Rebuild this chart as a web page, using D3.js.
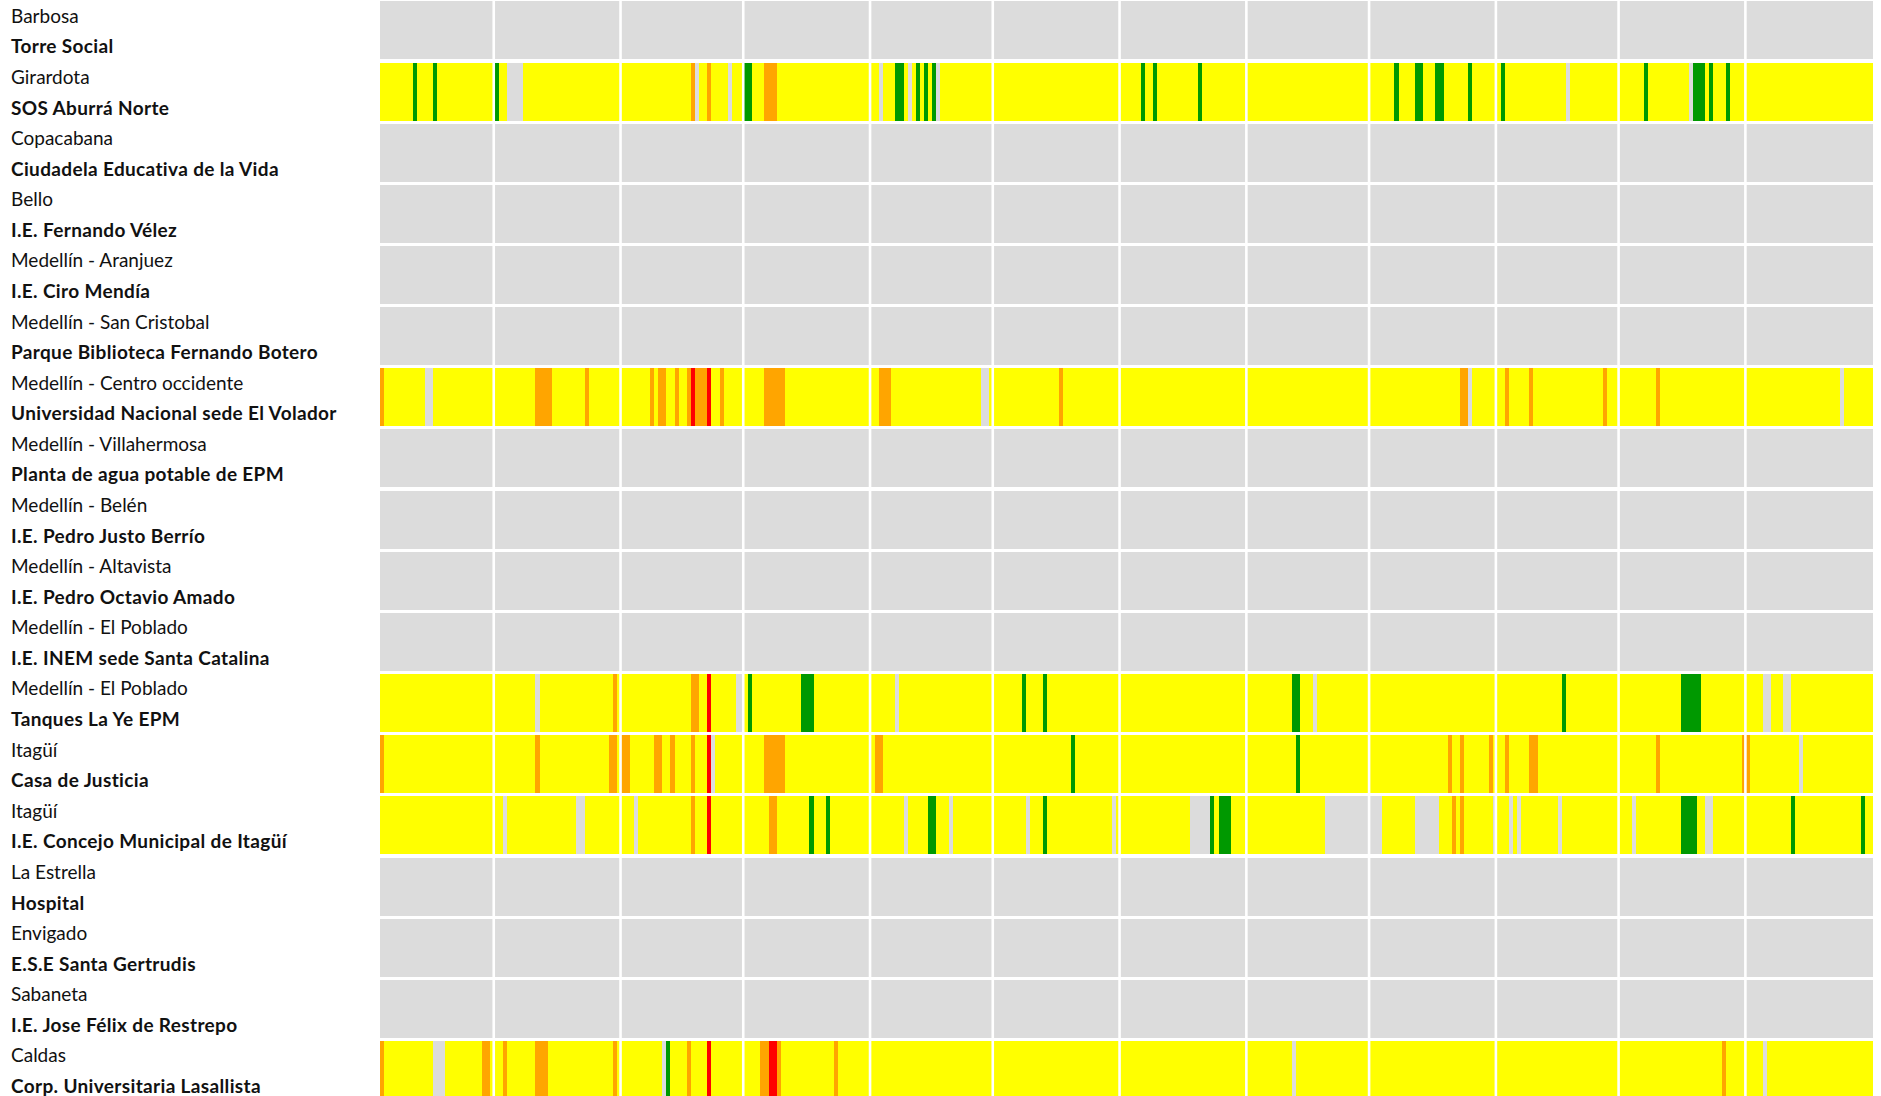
<!DOCTYPE html>
<html><head><meta charset="utf-8">
<script src="https://cdn.jsdelivr.net/npm/d3@7"></script>
<style>
html,body{margin:0;padding:0;background:#fff;overflow:hidden}
svg{display:block}
text{font-family:Lato,"Noto Sans",sans-serif;fill:#111}
</style></head><body><svg id="chart" width="1881" height="1096"></svg>
<script>
// ---- Data ----
const municipios = ["Barbosa","Girardota","Copacabana","Bello","Medellín - Aranjuez","Medellín - San Cristobal","Medellín - Centro occidente","Medellín - Villahermosa","Medellín - Belén","Medellín - Altavista","Medellín - El Poblado","Medellín - El Poblado","Itagüí","Itagüí","La Estrella","Envigado","Sabaneta","Caldas"];
const estaciones = ["Torre Social","SOS Aburrá Norte","Ciudadela Educativa de la Vida","I.E. Fernando Vélez","I.E. Ciro Mendía","Parque Biblioteca Fernando Botero","Universidad Nacional sede El Volador","Planta de agua potable de EPM","I.E. Pedro Justo Berrío","I.E. Pedro Octavio Amado","I.E. INEM sede Santa Catalina","Tanques La Ye EPM","Casa de Justicia","I.E. Concejo Municipal de Itagüí","Hospital","E.S.E Santa Gertrudis","I.E. Jose Félix de Restrepo","Corp. Universitaria Lasallista"];
const categorias = ["sinDatos","buena","moderada","sensibles","danina"];
const periodo = ["2017-02-01","2018-02-01"];

// day index (0 = first day of period) per category; all other days of a measured station are "moderada"
const sosAburraNorte = {
  buena: [8,13,28,89,90,126,127,131,133,135,186,189,200,248,253,254,258,259,266,274,309,321,322,323,325,329],
  sensibles: [76,80,94,95,96],
  danina: [],
  sinDatos: [31,32,33,34,77,85,122,129,136,290,320]
};
const volador = {
  buena: [],
  sensibles: [0,38,39,40,41,50,66,68,69,72,75,77,78,79,83,94,95,96,97,98,122,123,124,166,264,265,275,281,299,312],
  danina: [76,80],
  sinDatos: [11,12,147,148,266,357]
};
const tanquesLaYe = {
  buena: [90,103,104,105,157,162,223,224,289,318,319,320,321,322],
  sensibles: [57,76,77],
  danina: [80],
  sinDatos: [38,87,88,126,228,338,339,343,344]
};
const casaJusticia = {
  buena: [169,224],
  sensibles: [0,38,56,57,59,60,67,68,71,76,94,95,96,97,98,121,122,261,264,271,275,281,282,312,333,334],
  danina: [80],
  sinDatos: [81,347]
};
const concejoItagui = {
  buena: [105,109,134,135,162,203,205,206,207,318,319,320,321,345,362],
  sensibles: [76,95,96,262,264],
  danina: [80],
  sinDatos: [30,48,49,62,128,139,158,179,198,199,200,201,202,231,232,233,234,235,236,237,238,239,240,241,242,243,244,253,254,255,256,257,258,272,276,278,288,306,324,325]
};
const lasallista = {
  buena: [70],
  sensibles: [0,25,26,30,38,39,40,57,75,93,94,97,111,328],
  danina: [80,95,96],
  sinDatos: [13,14,15,69,223,338]
};
const medidas = {
  "SOS Aburrá Norte": sosAburraNorte,
  "Universidad Nacional sede El Volador": volador,
  "Tanques La Ye EPM": tanquesLaYe,
  "Casa de Justicia": casaJusticia,
  "I.E. Concejo Municipal de Itagüí": concejoItagui,
  "Corp. Universitaria Lasallista": lasallista
};

// ---- Chart ----
const W = 1881, H = 1096;
const svg = d3.select("#chart");
const start = new Date(periodo[0] + "T00:00:00Z"), end = new Date(periodo[1] + "T00:00:00Z");
const days = d3.utcDay.range(start, end);

const x = d3.scaleUtc().domain([start, end]).range([380, 1873]);
const y = d3.scaleBand().domain(d3.range(estaciones.length)).range([1.4, 1099]).paddingInner(0.0515).paddingOuter(0);
const color = d3.scaleOrdinal().domain(categorias).range(["#dcdcdc","#009900","#ffff00","#ffa500","#ff0000"]);

const rows = estaciones.map((est, i) => {
  const m = medidas[est];
  const vals = days.map((d, k) => {
    if (!m) return "sinDatos";
    for (const c of ["buena","sensibles","danina","sinDatos"]) if (m[c].includes(k)) return c;
    return "moderada";
  });
  return {i, est, mun: municipios[i], vals};
});

const gRows = svg.append("g").selectAll("g").data(rows).join("g")
  .attr("transform", r => `translate(0,${y(r.i)})`);

gRows.selectAll("rect").data(r => r.vals.map((v, k) => ({v, d: days[k]}))).join("rect")
  .attr("x", c => x(c.d))
  .attr("width", c => x(d3.utcDay.offset(c.d, 1)) - x(c.d) + 0.35)
  .attr("y", 0)
  .attr("height", y.bandwidth())
  .attr("fill", c => color(c.v))
  .attr("shape-rendering", "crispEdges");

// month separators from an axis (interior months only)
const grid = svg.append("g").attr("transform", `translate(-1.3,${H})`)
  .call(d3.axisBottom(x).tickValues(d3.utcMonth.range(d3.utcMonth.offset(start, 1), end)).tickSize(H).tickFormat(""));
grid.select(".domain").remove();
grid.selectAll(".tick line").attr("y2", -H).attr("stroke", "#fff").attr("stroke-width", 2.6);

// labels
const labels = svg.append("g").selectAll("g").data(rows).join("g")
  .attr("transform", r => `translate(11,${y(r.i)})`);
labels.append("text").attr("y", 21.4).attr("font-size", 19).attr("font-weight", 400).text(r => r.mun);
labels.append("text").attr("y", 52).attr("font-size", 19).attr("letter-spacing", 0.35).attr("font-weight", 700).text(r => r.est);
</script></body></html>
